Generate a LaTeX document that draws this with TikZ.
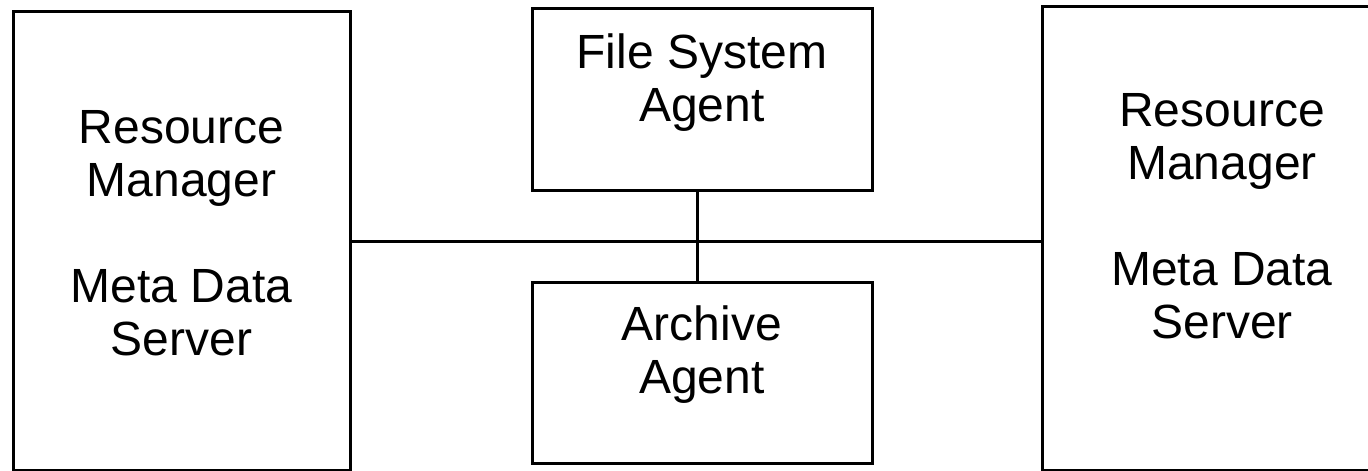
\documentclass[tikz,border=0pt]{standalone}
\usepackage{fontspec}
\setmainfont{Liberation Sans}
\begin{document}
\begin{tikzpicture}[x=1pt,y=-1pt,
  box/.style={draw=black,line width=3pt,rectangle,inner sep=0pt},
  txt/.style={align=center,font=\fontsize{48}{53}\selectfont,inner sep=0pt},
  wire/.style={draw=black,line width=3pt}]
\useasboundingbox (0,0) rectangle (1368,471);
% outer boxes
\node[box,minimum width=337pt,minimum height=459pt] (lb) at (181.5,241) {};
\node[box,minimum width=334pt,minimum height=464pt] (rb) at (1209,238.5) {};
% middle boxes
\node[box,minimum width=340pt,minimum height=182pt] (fsa) at (702,99.5) {};
\node[box,minimum width=340pt,minimum height=181pt] (arc) at (702,372.5) {};
% texts
\node[txt] (lt) at (181.5,233) {Resource\\Manager\\[53pt]Meta Data\\Server};
\node[txt] (rt) at (1222,216) {Resource\\Manager\\[53pt]Meta Data\\Server};
\node[txt] (ft) at (702,83) {File System\\Agent};
\node[txt] (at) at (702,355) {Archive\\Agent};
% connectors
\draw[wire] (lb.east) -- (lb.east -| rb.west);
\draw[wire] ([xshift=-5pt]fsa.south) -- ([xshift=-5pt]arc.north);
\end{tikzpicture}
\end{document}
